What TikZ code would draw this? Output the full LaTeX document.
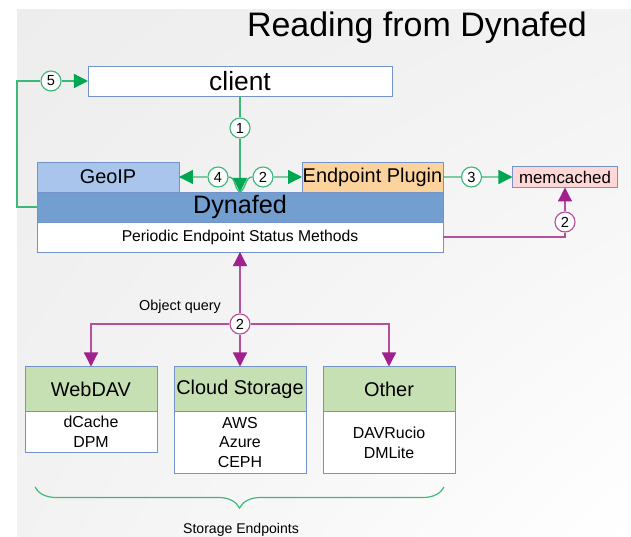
\documentclass[tikz,border=0pt]{standalone}
\usepackage{fontspec}
\setmainfont{Liberation Sans}
\usetikzlibrary{arrows.meta,positioning,decorations.pathreplacing,shadings}
\definecolor{edge}{HTML}{7394CB}
\definecolor{sky}{HTML}{A9C5EB}
\definecolor{dyn}{HTML}{729FCF}
\definecolor{peach}{HTML}{FCD39C}
\definecolor{rose}{HTML}{FFD7D7}
\definecolor{leaf}{HTML}{C6E0B4}
\definecolor{grn}{HTML}{3CB878}
\definecolor{grndark}{HTML}{00A651}
\definecolor{mag}{HTML}{B5509F}
\definecolor{magdark}{HTML}{A0218E}
\tikzset{box/.style={draw=edge,line width=0.8pt,outer sep=0pt,inner sep=0pt,minimum height=9mm,align=center,font=\fontsize{17}{20}\selectfont},sub/.style={box,fill=white,minimum width=3.96cm,font=\fontsize{13.6}{17}\selectfont},link/.style={draw=grn,line width=1.1pt},flow/.style={link,-{Triangle[length=4.2mm,width=4.2mm,color=grndark]}},mlink/.style={draw=mag,line width=1.1pt},query/.style={mlink,-{Triangle[length=4.2mm,width=4.2mm,color=magdark]}},num/.style={circle,draw=grn,fill=white,line width=1pt,inner sep=0pt,minimum size=6mm,font=\fontsize{12.5}{12.5}\selectfont},mnum/.style={num,draw=mag}}

\begin{document}
\begin{tikzpicture}[x=0.03cm,y=-0.03cm]
\useasboundingbox (0,0) rectangle (631,537);
\shade[upper left=black!7,upper right=black!5,lower left=black!5,lower right=white] (17,10) rectangle (631,537);
\node[font=\fontsize{29}{34}\selectfont] (title) at (417,28) {Reading from Dynafed};
% server side
\node[box,fill=white,minimum width=9.12cm,font=\fontsize{22.5}{26}\selectfont] (client) at (240,81) {client};
\node[box,fill=dyn,minimum width=12.18cm,font=\fontsize{21.5}{25}\selectfont] (dynafed) at (240,207) {Dynafed};
\node[box,fill=white,minimum width=12.18cm,font=\fontsize{13.4}{16}\selectfont,below=0pt of dynafed] (status) {Periodic Endpoint Status Methods};
\node[box,fill=sky,minimum width=4.26cm,anchor=south west] (geoip) at (dynafed.north west) {GeoIP};
\node[box,fill=peach,minimum width=4.23cm,anchor=south east] (plugin) at (dynafed.north east) {Endpoint Plugin};
\node[box,fill=rose,minimum width=3.15cm,minimum height=6.3mm,font=\fontsize{14.4}{17}\selectfont] (memcached) at (565,177) {memcached};
% endpoints
\node[box,fill=leaf,minimum width=3.96cm,minimum height=13.5mm] (webdav) at (91,389) {WebDAV};
\node[box,fill=leaf,minimum width=3.96cm,minimum height=13.5mm] (cloud) at (240,389) {Cloud Storage};
\node[box,fill=leaf,minimum width=3.96cm,minimum height=13.5mm] (other) at (389,389) {Other};
\node[sub,minimum height=12.3mm,below=0pt of webdav] (webdavsub) {dCache\\DPM};
\node[sub,minimum height=18.6mm,below=0pt of cloud] (cloudsub) {AWS\\Azure\\CEPH};
\node[sub,minimum height=18.6mm,below=0pt of other] (othersub) {DAVRucio\\DMLite};
% green steps
\node[num] (one) at (240,128) {1};
\node[num] (four) at (218,177) {4};
\node[num] (two) at (263,177) {2};
\node[num] (five) at (51,81) {5};
\draw[link] (client) -- (one);
\draw[flow] (one) -- (dynafed.north);
\draw[link] (dynafed.north) to[out=150,in=0] (four);
\draw[flow] (four) -- (geoip);
\draw[link] (dynafed.north) to[out=30,in=180] (two);
\draw[flow] (two) -- (plugin);
\draw[flow] (plugin) -- node[num,pos=.41] (three) {3} (memcached);
\draw[link] (dynafed.west) -- ++(-20,0) |- (five);
\draw[flow] (five) -- (client);
% purple steps
\node[mnum] (cache) at (565,222) {2};
\node[mnum] (fan) at (240,324) {2};
\draw[mlink] (status) -| (cache);
\draw[query] (cache) -- (memcached);
\draw[query] (fan) -- (status);
\draw[query] (fan) -- (cloud);
\draw[query] (fan) -| (webdav);
\draw[query] (fan) -| (other);
\node[font=\fontsize{12.3}{14}\selectfont] (oq) at (180,307) {Object query};
\draw[grn,line width=1pt,decorate,decoration={brace,mirror,amplitude=6.3mm}] (35,487) -- (444,487);
\node[font=\fontsize{12}{14}\selectfont] (storage) at (241,530) {Storage Endpoints};
\end{tikzpicture}
\end{document}
